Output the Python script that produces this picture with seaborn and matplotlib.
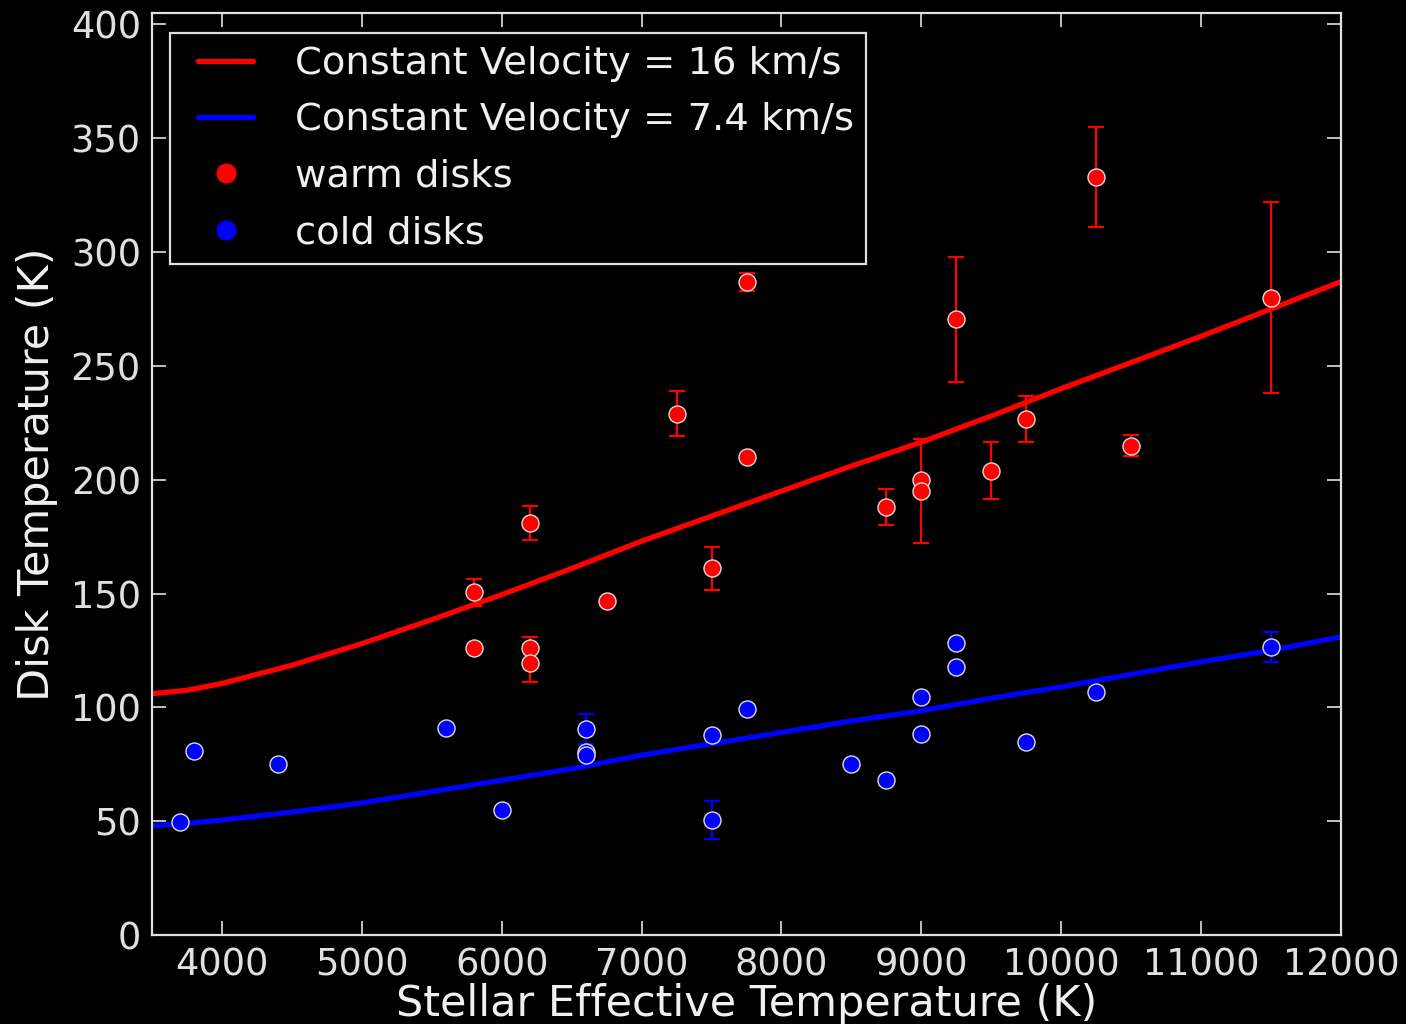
import numpy as np
import pandas as pd
import matplotlib
matplotlib.use("Agg")
import matplotlib.pyplot as plt
from matplotlib.lines import Line2D
from matplotlib.legend_handler import HandlerLine2D
import seaborn as sns

# ---------------- data ----------------
curve_teff = [3500, 3750, 4000, 4500, 5000, 5500, 6000, 6500, 7000, 7500,
              8000, 8500, 9000, 9500, 10000, 10500, 11000, 11500, 12000]
curve_16 = [106, 107.5, 110.5, 118.5, 128, 138.5, 149.5, 161, 173, 184,
            195, 206, 216.5, 228, 240, 251.5, 263, 275, 287]
curve_74 = [48, 49, 50.5, 54, 58, 63, 68, 73, 79, 84,
            89, 94, 98.5, 104, 109, 114.5, 120, 125, 131]

warm_teff = [5800, 5800, 6200, 6200, 6200, 6750, 7250, 7500, 7750, 7750,
             8750, 9000, 9000, 9250, 9500, 9750, 10250, 10500, 11500]
warm_tdisk = [150.6, 126, 181, 126, 119.5, 146.5, 229, 161, 287, 210,
              188, 200, 195, 270.5, 204, 226.6, 333, 215, 280]
warm_err = [6, 0, 7.5, 5, 8.5, 0, 10, 9.5, 4, 0,
            8, 0, 23, 27.5, 12.5, 10, 22, 4.5, 42]

cold_teff = [3700, 3800, 4400, 5600, 6000, 6600, 6600, 6600, 7500, 7500,
             7750, 8500, 8750, 9000, 9000, 9250, 9250, 9750, 10250, 11500]
cold_tdisk = [49.5, 80.8, 75, 90.9, 55, 90.4, 80.5, 79, 87.8, 50.5,
              99.2, 75, 68, 104.5, 88.3, 128.2, 117.7, 84.8, 106.7, 126.5]
cold_err = [0, 0, 0, 0, 0, 6.5, 0, 0, 0, 8.3,
            0, 0, 0, 0, 0, 0, 0, 0, 0, 6.5]

label_16 = "Constant Velocity = 16 km/s"
label_74 = "Constant Velocity = 7.4 km/s"
label_warm = "warm disks"
label_cold = "cold disks"

x_ticks = [4000, 5000, 6000, 7000, 8000, 9000, 10000, 11000, 12000]
y_ticks = [0, 50, 100, 150, 200, 250, 300, 350, 400]

curves = pd.DataFrame({"teff": curve_teff, "v16": curve_16, "v74": curve_74})
warm = pd.DataFrame({"teff": warm_teff, "tdisk": warm_tdisk, "err": warm_err})
cold = pd.DataFrame({"teff": cold_teff, "tdisk": cold_tdisk, "err": cold_err})

# ---------------- style ----------------
sns.set_theme(style="ticks", rc={
    "figure.facecolor": "black",
    "axes.facecolor": "black",
    "savefig.facecolor": "black",
    "axes.edgecolor": "#e0e0e0",
    "axes.labelcolor": "#f0f0f0",
    "text.color": "#f0f0f0",
    "xtick.color": "#e0e0e0",
    "ytick.color": "#e0e0e0",
    "axes.linewidth": 1.6,
})
plt.rcParams["font.family"] = ["DejaVu Sans"]

FS_TICK = 26.5
FS_LABEL = 31
FS_LEG = 27.7

fig = plt.figure(figsize=(14.06, 10.24), dpi=100)
ax = fig.add_axes([0.1081, 0.0869, 0.8457, 0.9004])

# model curves
sns.lineplot(data=curves, x="teff", y="v16", color="#ff0000", lw=3.8, ax=ax,
             legend=False, zorder=2)
sns.lineplot(data=curves, x="teff", y="v74", color="#0000ff", lw=3.8, ax=ax,
             legend=False, zorder=2)

# error bars
ax.errorbar(warm["teff"], warm["tdisk"], yerr=warm["err"], fmt="none",
            ecolor="#ff0000", elinewidth=1.6, capsize=6, capthick=1.6, zorder=3)
ax.errorbar(cold["teff"], cold["tdisk"], yerr=cold["err"], fmt="none",
            ecolor="#0000ff", elinewidth=1.6, capsize=6, capthick=1.6, zorder=3)

# data points
sns.scatterplot(data=warm, x="teff", y="tdisk", color="#ff0000", s=150,
                edgecolor="#dddddd", linewidth=1.0, ax=ax, legend=False, zorder=4)
sns.scatterplot(data=cold, x="teff", y="tdisk", color="#0000ff", s=150,
                edgecolor="#dddddd", linewidth=1.0, ax=ax, legend=False, zorder=4)

ax.set_xlim(3500, 12000)
ax.set_ylim(0, 405)
ax.set_xticks(x_ticks)
ax.set_yticks(y_ticks)
ax.set_xlabel("Stellar Effective Temperature (K)", fontsize=FS_LABEL, labelpad=0)
ax.set_ylabel("Disk Temperature (K)", fontsize=FS_LABEL, labelpad=9)
ax.tick_params(axis="both", which="major", direction="in", length=10, width=1.2,
               labelsize=FS_TICK, pad=8, top=True, right=True)
for s in ax.spines.values():
    s.set_visible(True)
    s.set_color("#e0e0e0")

handles = [
    Line2D([], [], color="#ff0000", lw=3.8),
    Line2D([], [], color="#0000ff", lw=3.8),
    Line2D([], [], color="#ff0000", marker="o", ls="none", markersize=13.5),
    Line2D([], [], color="#0000ff", marker="o", ls="none", markersize=13.5),
]
short_line = HandlerLine2D(numpoints=2, marker_pad=0.39)
leg = ax.legend(handles, [label_16, label_74, label_warm, label_cold],
                handler_map={handles[0]: short_line, handles[1]: short_line},
                loc="upper left", bbox_to_anchor=(0.0155, 0.978),
                fontsize=FS_LEG, frameon=True, fancybox=False,
                framealpha=1, facecolor="black", edgecolor="#e0e0e0",
                handlelength=2.21, handletextpad=0.69, labelspacing=0.53,
                borderpad=0.33, borderaxespad=0.0)
leg.get_frame().set_linewidth(1.6)
for t in leg.get_texts():
    t.set_color("#f0f0f0")

fig.savefig("out.png", dpi=100, facecolor="black")
